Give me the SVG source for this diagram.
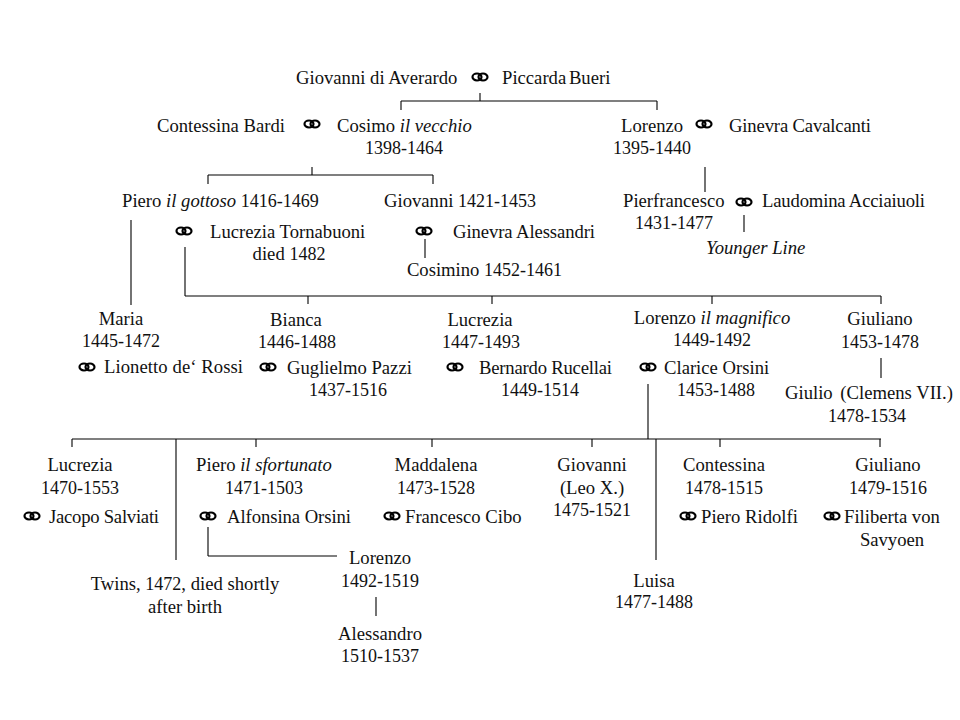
<svg xmlns="http://www.w3.org/2000/svg" width="960" height="720" viewBox="0 0 960 720">
<style>
text{font-family:"Liberation Serif","Times New Roman",serif;font-size:18.67px;fill:#111}
.c{text-anchor:middle}
.i{font-style:italic}
.d{font-size:18px}
#connectors line{stroke:#000;stroke-width:1.1}
.r{fill:none;stroke:#000;stroke-width:2.2}
</style>
<defs><g id="rings"><ellipse class="r" cx="-3" cy="0" rx="4.5" ry="3.5"/><ellipse class="r" cx="3" cy="0" rx="4.5" ry="3.5"/></g></defs>
<rect width="960" height="720" fill="#fff"/>
<g id="connectors">
<line x1="480" y1="93" x2="480" y2="101"/><line x1="401" y1="101" x2="657" y2="101"/><line x1="401" y1="101" x2="401" y2="110"/><line x1="657" y1="101" x2="657" y2="110"/>
<line x1="312" y1="167" x2="312" y2="175"/><line x1="208" y1="175" x2="433" y2="175"/><line x1="208" y1="175" x2="208" y2="184"/><line x1="433" y1="175" x2="433" y2="184"/>
<line x1="705" y1="167" x2="705" y2="192"/><line x1="744" y1="215" x2="744" y2="232"/>
<line x1="131" y1="220" x2="131" y2="305"/><line x1="185" y1="247" x2="185" y2="296"/><line x1="185" y1="296" x2="881" y2="296"/>
<line x1="308" y1="296" x2="308" y2="304"/><line x1="492" y1="296" x2="492" y2="304"/><line x1="712" y1="296" x2="712" y2="304"/><line x1="881" y1="296" x2="881" y2="304"/>
<line x1="425" y1="239" x2="425" y2="258"/><line x1="881" y1="358" x2="881" y2="378"/>
<line x1="648" y1="384" x2="648" y2="439"/><line x1="72" y1="439" x2="881" y2="439"/>
<line x1="72" y1="439" x2="72" y2="447"/><line x1="176" y1="439" x2="176" y2="560"/><line x1="256" y1="439" x2="256" y2="447"/><line x1="432" y1="439" x2="432" y2="447"/><line x1="592" y1="439" x2="592" y2="447"/><line x1="656" y1="439" x2="656" y2="560"/><line x1="720" y1="439" x2="720" y2="447"/><line x1="880" y1="439" x2="880" y2="447"/>
<line x1="208" y1="527" x2="208" y2="556"/><line x1="208" y1="556" x2="337" y2="556"/><line x1="376" y1="597" x2="376" y2="616"/>
</g>
<g id="n1"><text x="296" y="84">Giovanni di Averardo</text><use href="#rings" x="480" y="77"/><text x="502" y="84" word-spacing="-2">Piccarda Bueri</text></g>
<g id="n2"><text x="157" y="132">Contessina Bardi</text><use href="#rings" x="312" y="124"/><text x="337" y="132">Cosimo <tspan class="i">il vecchio</tspan></text><text class="c d" x="404" y="154">1398-1464</text></g>
<g id="n3"><text x="621" y="132">Lorenzo</text><use href="#rings" x="704" y="124"/><text x="729" y="132" textLength="142">Ginevra Cavalcanti</text><text class="d" x="613" y="154">1395-1440</text></g>
<g id="n4"><text x="122" y="207">Piero <tspan class="i">il gottoso</tspan> <tspan class="d">1416-1469</tspan></text><use href="#rings" x="184" y="231"/><text x="210" y="238">Lucrezia Tornabuoni</text><text class="c" x="289" y="260">died <tspan class="d">1482</tspan></text></g>
<g id="n5"><text x="384" y="207">Giovanni <tspan class="d">1421-1453</tspan></text><use href="#rings" x="424" y="231"/><text x="453" y="238" textLength="142">Ginevra Alessandri</text><text class="c" x="484.500" y="276">Cosimino <tspan class="d">1452-1461</tspan></text></g>
<g id="n6"><text x="623" y="207">Pierfrancesco</text><use href="#rings" x="744" y="202"/><text x="762" y="207" textLength="163">Laudomina Acciaiuoli</text><text class="d" x="635" y="229">1431-1477</text><text class="i" x="706" y="254">Younger Line</text></g>
<g id="n7"><text class="c" x="121" y="325">Maria</text><text class="c d" x="121" y="347">1445-1472</text><use href="#rings" x="87" y="367"/><text x="104" y="373" textLength="139">Lionetto de‘ Rossi</text></g>
<g id="n8"><text class="c" x="296" y="326">Bianca</text><text class="c d" x="297" y="348">1446-1488</text><use href="#rings" x="268" y="367"/><text x="287" y="374">Guglielmo Pazzi</text><text class="c d" x="348" y="396">1437-1516</text></g>
<g id="n9"><text class="c" x="480" y="326">Lucrezia</text><text class="c d" x="481" y="348">1447-1493</text><use href="#rings" x="455" y="367"/><text x="479" y="374" textLength="133">Bernardo Rucellai</text><text class="c d" x="540" y="396">1449-1514</text></g>
<g id="n10"><text class="c" x="712" y="324">Lorenzo <tspan class="i">il magnifico</tspan></text><text class="c d" x="712" y="346">1449-1492</text><use href="#rings" x="648" y="367"/><text x="664" y="374">Clarice Orsini</text><text class="c d" x="716" y="396">1453-1488</text></g>
<g id="n11"><text class="c" x="880" y="325">Giuliano</text><text class="c d" x="880" y="348">1453-1478</text><text x="785" y="399">Giulio <tspan dx="3">(Clemens VII.)</tspan></text><text class="c d" x="867" y="422">1478-1534</text></g>
<g id="n12"><text class="c" x="80" y="471">Lucrezia</text><text class="c d" x="80" y="494">1470-1553</text><use href="#rings" x="32" y="516"/><text x="49" y="523" textLength="110">Jacopo Salviati</text></g>
<g id="n13"><text class="c" x="264" y="471">Piero <tspan class="i">il sfortunato</tspan></text><text class="c d" x="264" y="494">1471-1503</text><use href="#rings" x="208" y="516"/><text x="227" y="523" textLength="124">Alfonsina Orsini</text></g>
<g id="n14"><text class="c" x="436" y="471">Maddalena</text><text class="c d" x="436" y="494">1473-1528</text><use href="#rings" x="392" y="516"/><text x="405" y="523">Francesco Cibo</text></g>
<g id="n15"><text class="c" x="592" y="471">Giovanni</text><text class="c" x="592" y="494">(Leo X.)</text><text class="c d" x="592" y="516">1475-1521</text></g>
<g id="n16"><text class="c" x="724" y="471">Contessina</text><text class="c d" x="724" y="494">1478-1515</text><use href="#rings" x="688" y="516"/><text x="701" y="523">Piero Ridolfi</text></g>
<g id="n17"><text class="c" x="888" y="471">Giuliano</text><text class="c d" x="888" y="494">1479-1516</text><use href="#rings" x="832" y="516"/><text x="844" y="523">Filiberta von</text><text class="c" x="892" y="546">Savyoen</text></g>
<g id="n18"><text class="c" x="185" y="590">Twins, <tspan class="d">1472</tspan>, died shortly</text><text class="c" x="185" y="613">after birth</text></g>
<g id="n19"><text class="c" x="380" y="564">Lorenzo</text><text class="c d" x="380" y="587">1492-1519</text></g>
<g id="n20"><text class="c" x="380" y="640">Alessandro</text><text class="c d" x="380" y="662">1510-1537</text></g>
<g id="n21"><text class="c" x="654" y="587">Luisa</text><text class="c d" x="654" y="608">1477-1488</text></g>
</svg>
